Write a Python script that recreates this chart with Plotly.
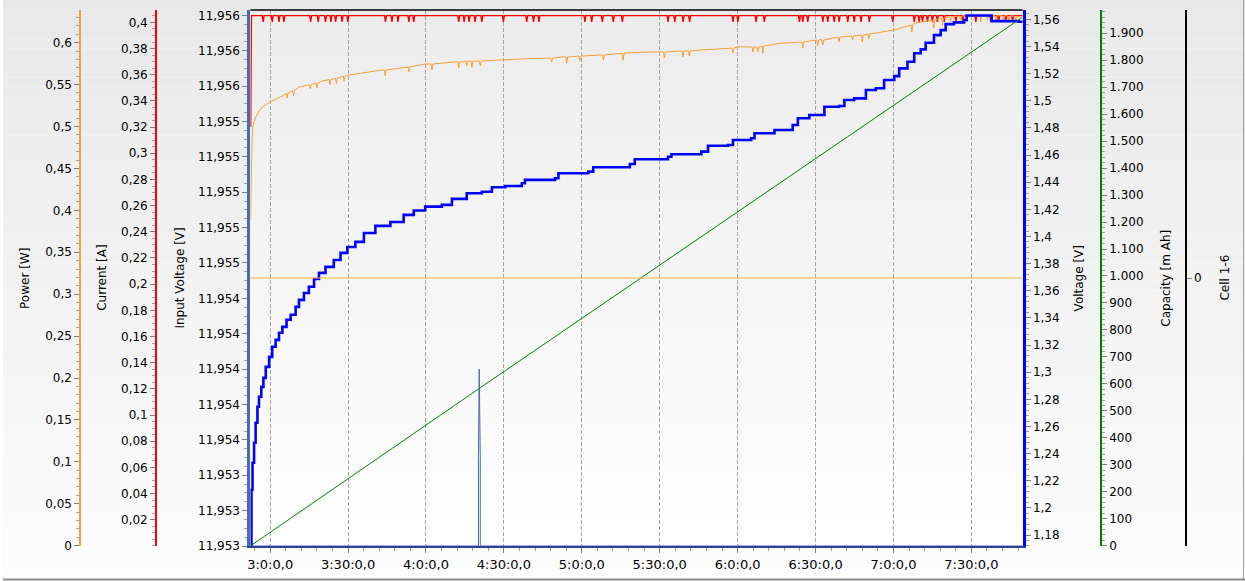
import plotly.graph_objects as go

# ---------------- data (time = minutes of clock time) ----------------
x_tick_vals = [180, 210, 240, 270, 300, 330, 360, 390, 420, 450]
x_tick_text = ["3:0:0,0", "3:30:0,0", "4:0:0,0", "4:30:0,0", "5:0:0,0",
               "5:30:0,0", "6:0:0,0", "6:30:0,0", "7:0:0,0", "7:30:0,0"]

# Voltage [V] (blue)
volt_t = [172.5, 172.8, 173.2, 173.8, 174.4, 175.1, 175.7, 176.6, 177.4, 178.3,
          179.6, 180.8, 182.1, 183.4, 184.7, 186.3, 187.9, 189.8, 191.1, 193.0,
          194.9, 196.9, 198.8, 201.3, 204.5, 207.1, 209.7, 212.8, 216.1, 220.5,
          226.3, 231.4, 235.3, 239.7, 246.1, 250.0, 255.7, 261.5, 265.4, 270.5,
          276.9, 278.1, 289.7, 291.0, 302.5, 304.4, 318.5, 320.4, 333.2, 334.5,
          346.0, 348.6, 356.3, 358.2, 365.2, 366.5, 374.2, 381.2, 383.2, 387.6,
          393.4, 399.1, 401.1, 404.9, 409.4, 413.2, 416.4, 420.3, 422.2, 425.4,
          428.0, 430.5, 432.4, 435.6, 438.2, 440.1, 443.3, 447.2, 448.2, 456.1,
          457.8, 468.2, 469.3]
volt_v = [1.1720, 1.2134, 1.2333, 1.2480, 1.2627, 1.2745, 1.2819, 1.2892, 1.2958, 1.3039,
          1.3113, 1.3187, 1.3238, 1.3290, 1.3334, 1.3386, 1.3423, 1.3481, 1.3533, 1.3584,
          1.3629, 1.3687, 1.3732, 1.3776, 1.3827, 1.3879, 1.3923, 1.3960, 1.4026, 1.4078,
          1.4107, 1.4159, 1.4191, 1.4220, 1.4233, 1.4277, 1.4319, 1.4330, 1.4363, 1.4372,
          1.4392, 1.4417, 1.4429, 1.4466, 1.4478, 1.4510, 1.4534, 1.4569, 1.4588, 1.4606,
          1.4625, 1.4669, 1.4674, 1.4711, 1.4724, 1.4761, 1.4785, 1.4822, 1.4871, 1.4895,
          1.4956, 1.4962, 1.5006, 1.5018, 1.5079, 1.5092, 1.5153, 1.5182, 1.5239, 1.5288,
          1.5350, 1.5379, 1.5428, 1.5484, 1.5521, 1.5565, 1.5578, 1.5595, 1.5628, 1.5628,
          1.5587, 1.5582, 1.5573]

# Power [W] (orange) smooth level
power_t = [172.5, 172.8, 173.2, 174.3, 175.7, 177.0, 180.1, 184.7, 191.1, 200.1,
           210.3, 223.1, 239.6, 253.8, 267.9, 280.7, 293.4, 307.6, 319.1, 330.7,
           346.0, 360.1, 376.7, 392.1, 407.5, 420.2, 427.8, 438.2, 448.5, 469.0]
power_w = [0.3885, 0.4541, 0.4979, 0.5102, 0.5185, 0.5233, 0.5296, 0.5364, 0.5471, 0.5543,
           0.5615, 0.5674, 0.5746, 0.5770, 0.5793, 0.5811, 0.5833, 0.5853, 0.5881, 0.5892,
           0.5913, 0.5952, 0.5993, 0.6040, 0.6092, 0.6151, 0.6231, 0.6291, 0.6322, 0.6310]
# Power dips: time, level around the dip, dip bottom
power_dip_t = [186.5, 189.0, 195.5, 198.0, 203.0, 205.5, 208.5,
               224.3, 233.4, 242.3, 252.6, 255.7, 257.7, 260.9, 288.4, 294.2, 299.2,
               308.3, 315.9, 331.8, 339.0, 341.4, 358.2, 365.9, 367.8, 369.7, 385.1,
               390.8, 392.8, 399.0, 404.3, 408.0, 410.5, 427.1, 435.5, 438.9, 442.0,
               445.9, 453.6, 456.2, 459.4, 462.4, 464.4, 467.1]
power_dip_base = [0.5395, 0.5430, 0.5500, 0.5520, 0.5560, 0.5575, 0.5600,
                  0.5674, 0.5710, 0.5746, 0.5773, 0.5781, 0.5781, 0.5781, 0.5817, 0.5829, 0.5841,
                  0.5853, 0.5873, 0.5889, 0.5901, 0.5901, 0.5936, 0.5948, 0.5948, 0.5960, 0.6008,
                  0.6032, 0.6032, 0.6067, 0.6079, 0.6091, 0.6103, 0.6211, 0.6270, 0.6294, 0.6306,
                  0.6318, 0.6322, 0.6322, 0.6322, 0.6322, 0.6320, 0.6315]
power_dip_low = [0.5340, 0.5370, 0.5450, 0.5460, 0.5500, 0.5510, 0.5540,
                 0.5603, 0.5650, 0.5674, 0.5698, 0.5722, 0.5710, 0.5722, 0.5770, 0.5758, 0.5781,
                 0.5793, 0.5793, 0.5817, 0.5829, 0.5841, 0.5877, 0.5889, 0.5889, 0.5877, 0.5936,
                 0.5960, 0.5972, 0.6008, 0.6032, 0.6008, 0.6044, 0.6127, 0.6175, 0.6199, 0.6246,
                 0.6222, 0.6246, 0.6270, 0.6258, 0.6246, 0.6270, 0.6258]

# Current [A] (red)
current_start_t = [172.5, 172.8]
current_start_a = [0.320, 0.4052]
current_level = 0.4052
current_dip_low = 0.4005
current_end_t = 469.7
current_dip_t = [177.3, 180.8, 183.4, 185.3, 195.6, 198.5, 201.3, 203.4, 205.2, 207.7,
                 209.9, 224.4, 226.9, 229.2, 233.4, 235.3, 252.6, 254.7, 256.6, 258.9,
                 261.5, 269.8, 278.8, 281.4, 283.5, 301.2, 303.8, 307.9, 312.1, 315.6,
                 333.2, 335.8, 339.0, 341.5, 358.2, 360.1, 367.1, 370.3, 383.8, 385.1,
                 387.0, 392.8, 394.7, 397.2, 399.1, 402.4, 404.9, 407.5, 410.7, 419.7,
                 428.0, 429.9, 431.2, 433.1, 435.0, 436.9, 439.5, 444.0, 446.7, 451.7,
                 457.5, 460.5, 463.2, 465.9]

# Capacity [mAh] (green)
cap_t = [172.5, 260.2, 469.5]
cap_mah = [0, 581, 1958]

# Cell 1-6
cell_t = [172.4, 469.7]
cell_v = [0, 0]

# Input voltage [V]
in_t = [172.4, 260.2, 260.2, 260.5, 260.9, 260.9, 469.7]
in_v = [11.9530, 11.9530, 11.9535, 11.9540, 11.9535, 11.9530, 11.9530]

# axis tick labels
iv_tick_vals = [11.953 + 0.0002 * k for k in range(16)]
iv_tick_text = ["11,953", "11,953", "11,953", "11,954", "11,954", "11,954", "11,954", "11,954",
                "11,955", "11,955", "11,955", "11,955", "11,955", "11,956", "11,956", "11,956"]
cur_tick_vals = [0.02 * k for k in range(1, 21)]
cur_tick_text = ["0,02", "0,04", "0,06", "0,08", "0,1", "0,12", "0,14", "0,16", "0,18", "0,2",
                 "0,22", "0,24", "0,26", "0,28", "0,3", "0,32", "0,34", "0,36", "0,38", "0,4"]
pow_tick_vals = [0.05 * k for k in range(13)]
pow_tick_text = ["0", "0,05", "0,1", "0,15", "0,2", "0,25", "0,3", "0,35", "0,4", "0,45",
                 "0,5", "0,55", "0,6"]
volt_tick_vals = [1.18 + 0.02 * k for k in range(20)]
volt_tick_text = ["1,18", "1,2", "1,22", "1,24", "1,26", "1,28", "1,3", "1,32", "1,34", "1,36",
                  "1,38", "1,4", "1,42", "1,44", "1,46", "1,48", "1,5", "1,52", "1,54", "1,56"]
cap_tick_vals = [100 * k for k in range(20)]
cap_tick_text = ["0", "100", "200", "300", "400", "500", "600", "700", "800", "900",
                 "1.000", "1.100", "1.200", "1.300", "1.400", "1.500", "1.600", "1.700",
                 "1.800", "1.900"]

# ---------------- build series ----------------
cur_x = list(current_start_t)
cur_y = list(current_start_a)
for t in current_dip_t:
    cur_x += [t - 0.35, t, t + 0.35]
    cur_y += [current_level, current_dip_low, current_level]
cur_x.append(current_end_t)
cur_y.append(current_level)

pw = list(zip(power_t, power_w))
for t, b, lo in zip(power_dip_t, power_dip_base, power_dip_low):
    pw += [(t - 0.35, b), (t, lo), (t + 0.35, b)]
pw.sort()
pw_x = [p[0] for p in pw]
pw_y = [p[1] for p in pw]

W, H = 1245, 581
ML, MR, MT, MB = 0, 0, 10, 35
PX0, PX1 = 248, 1022
FONT = "DejaVu Sans"

fig = go.Figure()
fig.add_trace(go.Scatter(x=in_t, y=in_v, yaxis="y", mode="lines",
                         line=dict(color="#4A6AAE", width=1), name="Input Voltage"))
fig.add_trace(go.Scatter(x=pw_x, y=pw_y, yaxis="y3", mode="lines",
                         line=dict(color="#F7A035", width=1, simplify=False), name="Power"))
fig.add_trace(go.Scatter(x=volt_t, y=volt_v, yaxis="y4", mode="lines",
                         line=dict(color="#0000FF", width=2.6, shape="hv"), name="Voltage"))
fig.add_trace(go.Scatter(x=cap_t, y=cap_mah, yaxis="y5", mode="lines",
                         line=dict(color="#008000", width=1), name="Capacity"))
fig.add_trace(go.Scatter(x=cell_t, y=cell_v, yaxis="y6", mode="lines",
                         line=dict(color="#F5B440", width=1), name="Cell 1-6"))
fig.add_trace(go.Scatter(x=cur_x, y=cur_y, yaxis="y2", mode="lines",
                         line=dict(color="#FF0000", width=1.4, simplify=False), name="Current"))

tickfont = dict(family=FONT, size=12, color="#000000")


def yax(**kw):
    d = dict(showgrid=False, zeroline=False, showline=True, linewidth=2,
             ticks="outside", ticklen=5, tickcolor="#808080", tickwidth=1,
             tickfont=tickfont, tickmode="array", fixedrange=True)
    d.update(kw)
    return d


def minor(t0, dt):
    return dict(ticks="outside", ticklen=3, tickcolor="#a0a0a0", tickwidth=1,
                tickmode="linear", tick0=t0, dtick=dt, showgrid=False)


fig.update_layout(
    width=W, height=H,
    margin=dict(l=ML, r=MR, t=MT, b=MB, pad=0),
    paper_bgcolor="#ffffff", plot_bgcolor="rgba(0,0,0,0)",
    showlegend=False,
    xaxis=dict(domain=[PX0 / W, PX1 / W], range=[172.39, 469.70],
               tickmode="array", tickvals=x_tick_vals, ticktext=x_tick_text,
               showgrid=True, gridcolor="#a4a4a4", gridwidth=1, griddash="4px,2px",
               zeroline=False, showline=True, linecolor="#2E3F96", linewidth=2,
               ticks="outside", ticklen=5, tickcolor="#808080",
               tickfont=dict(family=FONT, size=13, color="#000000"),
               minor=minor(180, 6), fixedrange=True),
    yaxis=yax(anchor="x", side="left", range=[11.953, 11.95603],
              tickvals=iv_tick_vals, ticktext=iv_tick_text,
              linecolor="#4A6AAE", linewidth=3, minor=minor(11.953, 0.00005)),
    yaxis2=yax(overlaying="y", anchor="free", position=153.5 / W, side="left",
               range=[-0.0001, 0.4095], tickvals=cur_tick_vals, ticktext=cur_tick_text,
               linecolor="#FF0000", minor=minor(0, 0.005)),
    yaxis3=yax(overlaying="y", anchor="free", position=77.5 / W, side="left",
               range=[-0.0004, 0.639], tickvals=pow_tick_vals, ticktext=pow_tick_text,
               linecolor="#F7A035", minor=minor(0, 0.01)),
    yaxis4=yax(overlaying="y", anchor="x", side="right",
               range=[1.1719, 1.5669], tickvals=volt_tick_vals, ticktext=volt_tick_text,
               linecolor="#0000FF", linewidth=3, minor=minor(1.18, 0.004)),
    yaxis5=yax(overlaying="y", anchor="free", position=1100.5 / W, side="right",
               range=[-1, 1986], tickvals=cap_tick_vals, ticktext=cap_tick_text,
               linecolor="#008000", minor=minor(0, 20)),
    yaxis6=yax(overlaying="y", anchor="free", position=1185.5 / W, side="right",
               range=[-1, 1], tickvals=[0], ticktext=["0"], linecolor="#000000"),
)

# background gradients (figure and plot area)
shapes = []
NB = 60
fy0 = -MB / (H - MT - MB)
fy1 = 1 + MT / (H - MT - MB)
for i in range(NB):
    a = fy1 - (fy1 - fy0) * i / NB
    b = fy1 - (fy1 - fy0) * (i + 1) / NB
    g = round(232 + (253 - 232) * (i + 0.5) / NB)
    shapes.append(dict(type="rect", xref="paper", yref="paper", x0=0, x1=1, y0=b, y1=a,
                       fillcolor=f"rgb({g},{g},{g})", line=dict(width=0), layer="below"))
for i in range(NB):
    a = 1 - i / NB
    b = 1 - (i + 1) / NB
    g = round(236 + (255 - 236) * (i + 0.5) / NB)
    shapes.append(dict(type="rect", xref="x domain", yref="y domain", x0=0, x1=1, y0=b, y1=a,
                       fillcolor=f"rgb({g},{g},{g})", line=dict(width=0), layer="below"))
# top frame line of the plot area
shapes.append(dict(type="line", xref="x domain", yref="y domain", x0=0, x1=1, y0=1, y1=1,
                   line=dict(color="#000000", width=1.5), layer="above"))
# window border lines
shapes.append(dict(type="line", xref="paper", yref="paper", x0=0, x1=1,
                   y0=fy0 + 1.5 / (H - MT - MB), y1=fy0 + 1.5 / (H - MT - MB),
                   line=dict(color="#8c8c8c", width=2), layer="above"))
shapes.append(dict(type="line", xref="paper", yref="paper", x0=1243.5 / W, x1=1243.5 / W,
                   y0=fy0, y1=fy1, line=dict(color="#a0a0a0", width=1), layer="above"))
fig.update_layout(shapes=shapes)

titles = [("Power [W]", 22), ("Current [A]", 99), ("Input Voltage [V]", 177),
          ("Voltage [V]", 1079), ("Capacity [m Ah]", 1165.5), ("Cell 1-6", 1224.5)]
for txt, px in titles:
    fig.add_annotation(text=txt, xref="paper", yref="paper", x=px / W, y=0.5,
                       textangle=-90, showarrow=False, xanchor="center", yanchor="middle",
                       font=dict(family=FONT, size=12, color="#000000"))

fig.write_html("out.html", config={"displayModeBar": False},
               post_script="document.body.style.margin='0';document.body.style.overflow='hidden';")
